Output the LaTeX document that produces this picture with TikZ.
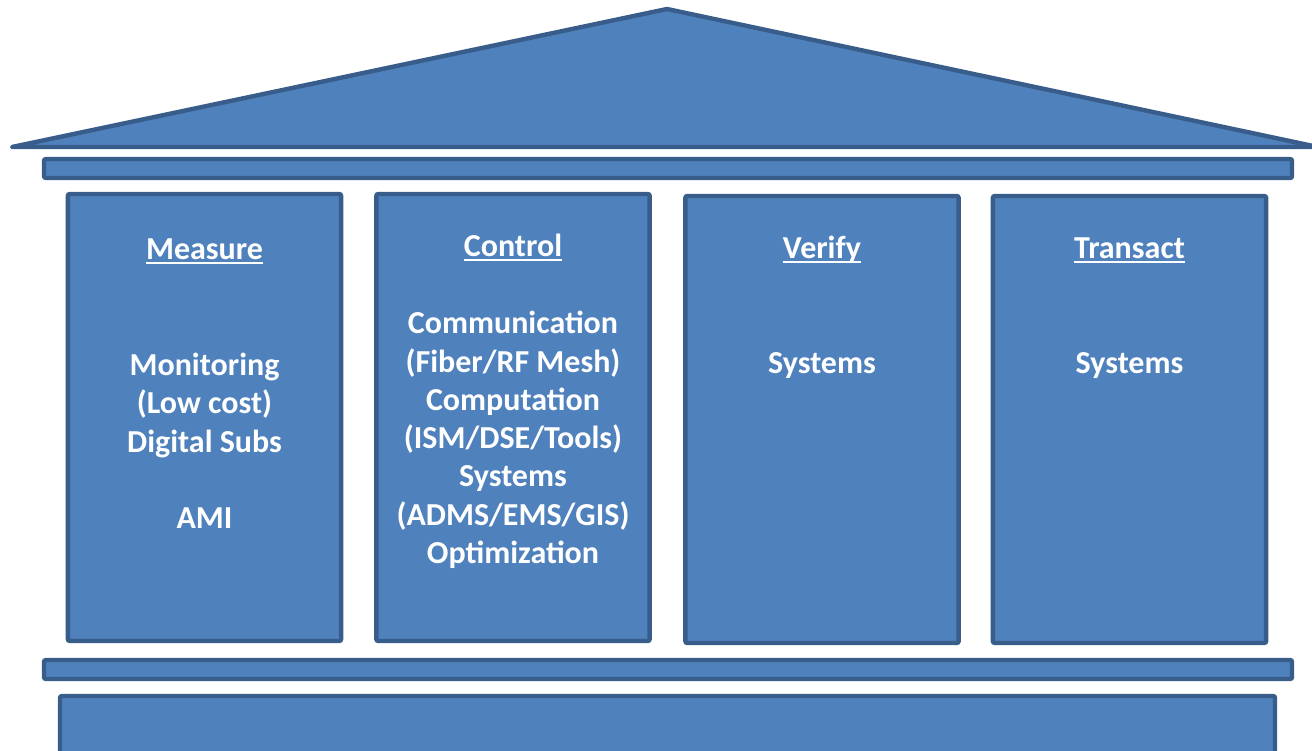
\documentclass[tikz,border=0pt]{standalone}
\usepackage{fontspec}
\setmainfont{Carlito}
\usetikzlibrary{positioning}
\definecolor{TempleBlue}{RGB}{79,129,189}
\definecolor{TempleEdge}{RGB}{56,93,138}
\newcommand{\uhead}[1]{\setbox0\hbox{#1}\rlap{\rule[-4pt]{\wd0}{1.7pt}}\box0}
\tikzset{
  part/.style={draw=TempleEdge,fill=TempleBlue,line width=3.3pt,rounded corners=1.5pt},
  pillar/.style={part,inner sep=0pt,minimum width=205pt,minimum height=335.25pt},
  head/.style={text=white,font=\bfseries\fontsize{24}{28.7}\selectfont,anchor=base,inner sep=0pt},
  words/.style={text=white,font=\bfseries\fontsize{24}{28.7}\selectfont,align=center,anchor=north,inner sep=0pt},
}

\begin{document}
\begin{tikzpicture}[x=0.75pt,y=-0.75pt]
  \useasboundingbox (0,0) rectangle (1312,750);
  % roof, beam and base
  \draw[part,rounded corners=0pt,line join=round] (12,147) -- (667,9) -- (1318,147) -- cycle;
  \draw[part] (44,159) rectangle (1292,178);
  \draw[part] (44,660) rectangle (1292,679);
  \draw[part] (60,696) rectangle (1275,770);
  % pillars
  \node[pillar] (measure) at (204.5,417.5) {};
  \node[pillar] (control) at (513,417.5) {};
  \node[pillar] (verify) at (822,419.5) {};
  \node[pillar] (transact) at (1129.5,419.5) {};
  % headings
  \foreach \p/\t/\y in {measure/Measure/259,control/Control/256,verify/Verify/258,transact/Transact/258}
    \node[head] (\p-head) at (\p.center |- 0,\y) {\uhead{\t}};
  % pillar texts
  \node[words] (measure-text) at (204.5,353) {Monitoring\\(Low cost)\\Digital Subs\\[28.7pt]AMI};
  \node[words] (control-text) at (513,311) {Communication\\(Fiber/RF Mesh)\\Computation\\(ISM/DSE/Tools)\\Systems\\(ADMS/EMS/GIS)\\Optimization};
  \node[words] (verify-text) at (822,352) {Systems};
  \node[words] (transact-text) at (1129.5,352) {Systems};
\end{tikzpicture}
\end{document}
